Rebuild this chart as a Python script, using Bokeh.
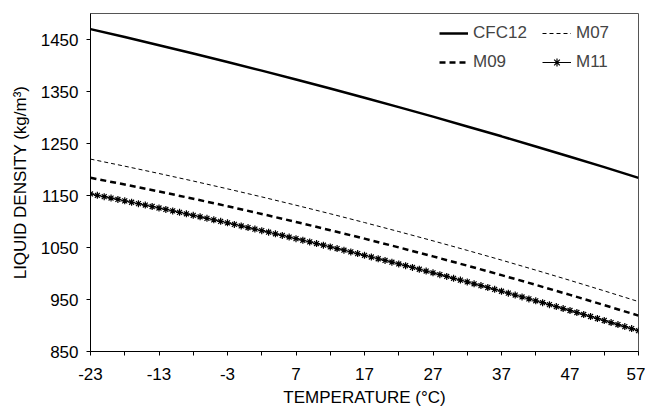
from bokeh.plotting import figure
from bokeh.models import Range1d, FixedTicker, Legend, LegendItem
from bokeh.embed import file_html
from bokeh.resources import INLINE

# temperature axis values (degC)
t5 = [-23, -18, -13, -8, -3, 2, 7, 12, 17, 22, 27, 32, 37, 42, 47, 52, 57]
t1 = list(range(-23, 58))

cfc12 = [1470, 1454.7, 1439.1, 1423.1, 1406.8, 1390.1, 1373.1, 1355.7, 1338,
         1319.9, 1301.6, 1282.8, 1263.8, 1244.3, 1224.6, 1204.5, 1184]
m07 = [1220, 1206.4, 1192.3, 1177.8, 1162.8, 1147.3, 1131.3, 1114.9, 1098,
       1080.6, 1062.8, 1044.5, 1025.8, 1006.5, 986.8, 966.6, 946]
m09 = [1184, 1171.1, 1157.7, 1143.8, 1129.4, 1114.5, 1099.2, 1083.3, 1067,
       1050.2, 1032.9, 1015.1, 996.9, 978.1, 958.9, 939.2, 919]
m11 = [1153.0, 1150.4, 1147.7, 1145.1, 1142.4, 1139.7, 1137.0, 1134.3, 1131.6, 1128.8,
       1126.0, 1123.2, 1120.4, 1117.6, 1114.8, 1111.9, 1109.0, 1106.1, 1103.2, 1100.3,
       1097.4, 1094.4, 1091.4, 1088.4, 1085.4, 1082.4, 1079.4, 1076.3, 1073.2, 1070.1,
       1067.0, 1063.9, 1060.8, 1057.6, 1054.4, 1051.2, 1048.0, 1044.8, 1041.5, 1038.3,
       1035.0, 1031.7, 1028.4, 1025.1, 1021.7, 1018.4, 1015.0, 1011.6, 1008.2, 1004.7,
       1001.3, 997.8, 994.3, 990.8, 987.3, 983.8, 980.2, 976.7, 973.1, 969.5,
       965.9, 962.2, 958.6, 954.9, 951.2, 947.5, 943.8, 940.1, 936.3, 932.6,
       928.8, 925.0, 921.2, 917.3, 913.5, 909.6, 905.7, 901.8, 897.9, 894.0, 890.0]

x_ticks = [-23, -18, -13, -8, -3, 2, 7, 12, 17, 22, 27, 32, 37, 42, 47, 52, 57]
x_labels = [-23, -13, -3, 7, 17, 27, 37, 47, 57]
y_ticks = [850, 950, 1050, 1150, 1250, 1350, 1450]

FONT = "Liberation Sans"
FS = "17px"

p = figure(width=645, height=411, output_backend="svg", toolbar_location=None,
           x_range=Range1d(-23, 57), y_range=Range1d(850, 1500),
           min_border_left=90, min_border_right=7, min_border_top=13, min_border_bottom=60)
p.xgrid.visible = False
p.ygrid.visible = False
p.outline_line_color = "#555555"
p.outline_line_width = 1
p.background_fill_color = "white"
p.border_fill_color = "white"

for ax in (p.xaxis[0], p.yaxis[0]):
    ax.axis_line_color = "black"
    ax.axis_line_width = 1
    ax.major_tick_line_color = "black"
    ax.major_tick_in = 0
    ax.major_tick_out = 4
    ax.minor_tick_line_color = None
    ax.major_label_text_font = FONT
    ax.major_label_text_font_size = FS
    ax.major_label_text_color = "black"
    ax.axis_label_text_font = FONT
    ax.axis_label_text_font_size = FS
    ax.axis_label_text_font_style = "normal"
    ax.axis_label_text_color = "black"

p.xaxis.ticker = FixedTicker(ticks=x_ticks)
p.xaxis.major_label_overrides = {t: ("" if t not in x_labels else str(t)) for t in x_ticks}
p.xaxis.major_label_standoff = 12
p.xaxis.axis_label = "TEMPERATURE (°C)"
p.xaxis.axis_label_standoff = 5

p.yaxis.ticker = FixedTicker(ticks=y_ticks)
p.yaxis.major_label_standoff = 8
p.yaxis.axis_label = "LIQUID DENSITY (kg/m³)"
p.yaxis.axis_label_standoff = 8

r_cfc = p.line(t5, cfc12, line_color="black", line_width=2.5)
r_m07 = p.line(t5, m07, line_color="black", line_width=1, line_dash="4 3")
r_m09 = p.line(t5, m09, line_color="black", line_width=2.5, line_dash="6 4")
r_m11l = p.line(t1, m11, line_color="black", line_width=1)
r_m11s = p.scatter(t1, m11, marker="asterisk", size=7, line_color="black", line_width=1.2)

legend = Legend(items=[
    LegendItem(label="CFC12", renderers=[r_cfc]),
    LegendItem(label="M09", renderers=[r_m09]),
    LegendItem(label="M07", renderers=[r_m07]),
    LegendItem(label="M11", renderers=[r_m11l, r_m11s]),
], ncols=2, location=(349, 279))
legend.background_fill_alpha = 0
legend.border_line_color = None
legend.label_text_font = FONT
legend.label_text_font_size = FS
legend.glyph_width = 29
legend.glyph_height = 20
legend.label_standoff = 5
legend.label_width = 60
legend.label_height = 20
legend.spacing = 9
legend.padding = 0
legend.margin = 0
p.add_layout(legend)

open("out.html", "w").write(file_html(p, INLINE))
